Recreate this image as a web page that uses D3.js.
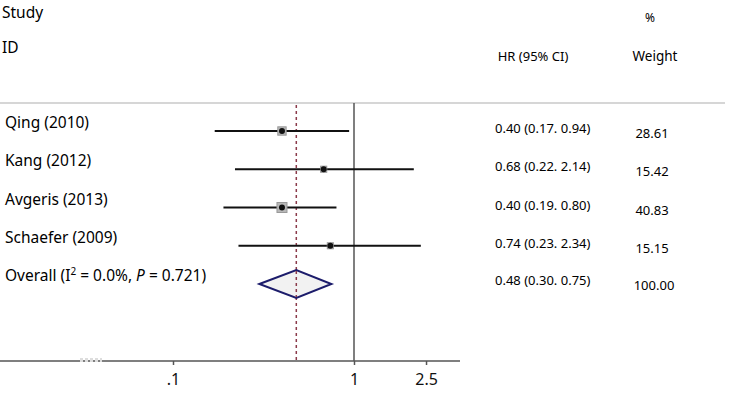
<!DOCTYPE html>
<html>
<head>
<meta charset="utf-8">
<script src="https://cdn.jsdelivr.net/npm/d3@7"></script>
<style>
  body { margin: 0; background: #fff; }
  svg { display: block; font-family: "Noto Sans", sans-serif; }
</style>
</head>
<body>
<div id="chart-area"></div>
<script>
// data
var studies = ["Qing (2010)", "Kang (2012)", "Avgeris (2013)", "Schaefer (2009)"];
var hr = [0.40, 0.68, 0.40, 0.74];
var lower = [0.17, 0.22, 0.19, 0.23];
var upper = [0.94, 2.14, 0.80, 2.34];
var weights = ["28.61", "15.42", "40.83", "15.15"];
var hrLabels = ["0.40 (0.17. 0.94)", "0.68 (0.22. 2.14)", "0.40 (0.19. 0.80)", "0.74 (0.23. 2.34)"];
var overall = { hr: 0.48, lower: 0.30, upper: 0.75, label: "0.48 (0.30. 0.75)", weight: "100.00" };
var tickVals = [0.1, 1, 2.5];
var tickLabels = [".1", "1", "2.5"];

var width = 747, height = 405;

var svg = d3.select("#chart-area")
    .append("svg")
    .attr("width", width)
    .attr("height", height);

// scales
var x = d3.scaleLog()
    .base(10)
    .domain([0.1, 1])
    .range([173, 354]);

var rows = studies.concat(["Overall"]);
var y = d3.scalePoint()
    .domain(rows)
    .range([131, 284]);

var topY = 103, axisY = 361;

// headers
svg.append("text").attr("x", 2).attr("y", 18).attr("font-size", 15.5).text("Study");
svg.append("text").attr("x", 2).attr("y", 53).attr("font-size", 15.5).text("ID");
svg.append("text").attr("x", 650).attr("y", 22).attr("font-size", 12).attr("text-anchor", "middle").text("%");
svg.append("text").attr("x", 533).attr("y", 61).attr("font-size", 13).attr("text-anchor", "middle").text("HR (95% CI)");
svg.append("text").attr("x", 655).attr("y", 61).attr("font-size", 13.5).attr("text-anchor", "middle").text("Weight");

// separator
svg.append("line")
    .attr("x1", 0).attr("x2", 725)
    .attr("y1", topY).attr("y2", topY)
    .attr("stroke", "#c8c8c8").attr("stroke-width", 1.5);

// null line at 1
svg.append("line")
    .attr("x1", x(1)).attr("x2", x(1))
    .attr("y1", topY).attr("y2", axisY)
    .attr("stroke", "#555").attr("stroke-width", 1.5);

// overall dashed line
svg.append("line")
    .attr("x1", x(overall.hr)).attr("x2", x(overall.hr))
    .attr("y1", topY + 2).attr("y2", axisY)
    .attr("stroke", "#8b3a4a").attr("stroke-width", 1.5)
    .attr("stroke-dasharray", "3,3");

// axis
var bottomAxis = d3.axisBottom(x)
    .tickValues(tickVals)
    .tickFormat(function(d, i) { return tickLabels[i]; })
    .tickSize(4)
    .tickSizeOuter(0);

var ax = svg.append("g")
    .attr("class", "x-axis")
    .attr("transform", "translate(0," + axisY + ")")
    .call(bottomAxis);
ax.select(".domain").remove();
ax.selectAll(".tick line").attr("stroke", "#555").attr("stroke-width", 1.5);
ax.selectAll(".tick text")
    .attr("font-family", "Noto Sans, sans-serif")
    .attr("font-size", 16)
    .attr("fill", "#111")
    .attr("dy", "1.05em");

svg.append("line")
    .attr("x1", 0).attr("x2", 460)
    .attr("y1", axisY).attr("y2", axisY)
    .attr("stroke", "#555").attr("stroke-width", 1.5);
// faint arrow remnant on axis
svg.append("line")
    .attr("x1", 80).attr("x2", 102)
    .attr("y1", axisY - 1).attr("y2", axisY - 1)
    .attr("stroke", "#ddd").attr("stroke-width", 4)
    .attr("stroke-dasharray", "3,2");

// study labels
svg.selectAll(".label")
    .data(studies)
    .enter().append("text")
    .attr("class", "label")
    .attr("x", 5)
    .attr("y", function(d) { return y(d) - 3; })
    .attr("font-size", 15.5)
    .text(function(d) { return d; });

var ov = svg.append("text")
    .attr("x", 5).attr("y", y("Overall") - 3)
    .attr("font-size", 15.5);
ov.append("tspan").text("Overall (I");
ov.append("tspan").attr("dy", -6).attr("font-size", 10).text("2");
ov.append("tspan").attr("dy", 6).text(" = 0.0%, ");
ov.append("tspan").attr("font-style", "italic").text("P");
ov.append("tspan").text(" = 0.721)");

// CI lines
var sq = d3.scaleSqrt().domain([0, 40.83]).range([0, 10]);

studies.forEach(function(s, i) {
    var cy = y(s);
    svg.append("line")
        .attr("x1", x(lower[i])).attr("x2", x(upper[i]))
        .attr("y1", cy).attr("y2", cy)
        .attr("stroke", "#111").attr("stroke-width", 2);
    var side = sq(+weights[i]);
    svg.append("rect")
        .attr("x", x(hr[i]) - side / 2).attr("y", cy - side / 2)
        .attr("width", side).attr("height", side)
        .attr("fill", "#b8b8b8").attr("stroke", "#999");
    svg.append("circle")
        .attr("cx", x(hr[i])).attr("cy", cy)
        .attr("r", 3).attr("fill", "#111");
    svg.append("text")
        .attr("x", 495).attr("y", cy + 2)
        .attr("font-size", 13)
        .text(hrLabels[i]);
    svg.append("text")
        .attr("x", 652).attr("y", cy + 7)
        .attr("font-size", 13)
        .attr("text-anchor", "middle")
        .text(weights[i]);
});

// overall diamond
var oy = y("Overall");
svg.append("path")
    .attr("d", "M" + x(overall.lower) + "," + oy +
               "L" + x(overall.hr) + "," + (oy - 14) +
               "L" + x(overall.upper) + "," + oy +
               "L" + x(overall.hr) + "," + (oy + 14) + "Z")
    .attr("fill", "#f2f2f2")
    .attr("stroke", "#1c1c6b").attr("stroke-width", 2);
// dashed line shows through the diamond
svg.append("line")
    .attr("x1", x(overall.hr)).attr("x2", x(overall.hr))
    .attr("y1", oy - 13).attr("y2", oy + 13)
    .attr("stroke", "#8b3a4a").attr("stroke-width", 1.5)
    .attr("stroke-dasharray", "3,3");

svg.append("text")
    .attr("x", 495).attr("y", oy + 1)
    .attr("font-size", 13)
    .text(overall.label);
svg.append("text")
    .attr("x", 654).attr("y", oy + 6)
    .attr("font-size", 13)
    .attr("text-anchor", "middle")
    .text(overall.weight);
</script>
</body>
</html>
